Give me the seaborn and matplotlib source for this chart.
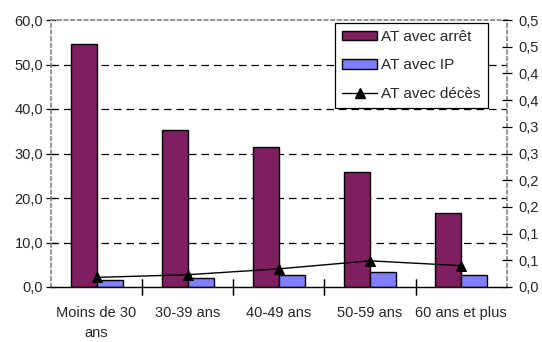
import matplotlib
matplotlib.use("Agg")
import matplotlib.pyplot as plt
from matplotlib.lines import Line2D
from matplotlib.patches import Patch
import seaborn as sns
import pandas as pd

# Accident rates by age group
categories = ["Moins de 30\nans", "30-39 ans", "40-49 ans", "50-59 ans", "60 ans et plus"]
at_arret = [54.6, 35.3, 31.4, 25.9, 16.7]
at_ip = [1.6, 2.1, 2.7, 3.3, 2.7]
at_deces = [0.018, 0.023, 0.034, 0.049, 0.040]

left_ticks = [0, 10, 20, 30, 40, 50, 60]
left_labels = ["0,0", "10,0", "20,0", "30,0", "40,0", "50,0", "60,0"]
right_ticks = [0, 0.05, 0.10, 0.15, 0.20, 0.25, 0.30, 0.35, 0.40, 0.45, 0.50]
right_labels = ["0,0", "0,1", "0,1", "0,2", "0,2", "0,3", "0,3", "0,4", "0,4", "0,5", "0,5"]

series_names = ["AT avec arrêt", "AT avec IP", "AT avec décès"]
purple = "#7F1F5F"
blue = "#8080FF"

sns.set_theme(style="white")
plt.rcParams["font.family"] = ["Liberation Sans", "DejaVu Sans"]

df = pd.DataFrame({
    "cat": categories * 2,
    "val": at_arret + at_ip,
    "serie": [series_names[0]] * 5 + [series_names[1]] * 5,
})

fig = plt.figure(figsize=(5.42, 3.42), dpi=100)
ax = fig.add_axes([51 / 542, 1 - 287 / 342, (506.7 - 51) / 542, (287 - 20) / 342])

sns.barplot(data=df, x="cat", y="val", hue="serie", palette=[purple, blue],
            width=0.57, gap=0, edgecolor="black", linewidth=1.0,
            saturation=1, ax=ax, legend=False)

ax.set_ylim(0, 60)
ax.set_xlim(-0.5, 4.5)
ax.set_yticks(left_ticks)
ax.set_yticklabels(left_labels, fontsize=10.5)
ax.set_xlabel("")
ax.set_ylabel("")
ax.tick_params(axis="x", length=0, labelsize=10.5, pad=14)
for lbl in ax.get_xticklabels():
    lbl.set_linespacing(1.55)
for y in left_ticks[1:-1]:
    ax.axhline(y, color="black", lw=0.9, ls=(0, (6, 4)), zorder=0.5)
ax.tick_params(axis="y", direction="inout", length=7, width=0.9, color="black", pad=2, left=True)

# Category separators on the x axis
for xb in [0.5, 1.5, 2.5, 3.5]:
    ax.plot([xb, xb], [0, 0], marker="|", ms=11, mew=0.9, color="black", clip_on=False, zorder=5)

for side in ["left", "right", "top"]:
    ax.spines[side].set_color("#808080")
    ax.spines[side].set_linestyle((0, (2, 2)))
    ax.spines[side].set_linewidth(1.2)
ax.spines["bottom"].set_color("black")
ax.spines["bottom"].set_linewidth(1.0)

ax2 = ax.twinx()
sns.lineplot(x=list(range(5)), y=at_deces, color="black", marker="^", markersize=6.5,
             markeredgecolor="black", lw=1.0, ax=ax2)
ax2.set_ylim(0, 0.5)
ax2.set_yticks(right_ticks)
ax2.set_yticklabels(right_labels, fontsize=10.5)
ax2.tick_params(axis="y", direction="inout", length=7, width=0.9, color="black", pad=5, right=True)
for side in ["left", "right", "top", "bottom"]:
    ax2.spines[side].set_visible(False)

handles = [
    Patch(facecolor=purple, edgecolor="black", label=series_names[0]),
    Patch(facecolor=blue, edgecolor="black", label=series_names[1]),
    Line2D([0], [0], color="black", marker="^", markersize=6.5, lw=1.0, label=series_names[2]),
]
leg = ax2.legend(handles=handles, loc="upper right", bbox_to_anchor=(0.958, 0.989),
                 frameon=True, fancybox=False, edgecolor="black", facecolor="white",
                 framealpha=1, fontsize=11,
                 handlelength=2.3, handleheight=0.6, handletextpad=0.25,
                 borderpad=0.45, labelspacing=0.95, borderaxespad=0)
leg.get_frame().set_linewidth(0.9)

fig.savefig("out.png", dpi=100)
